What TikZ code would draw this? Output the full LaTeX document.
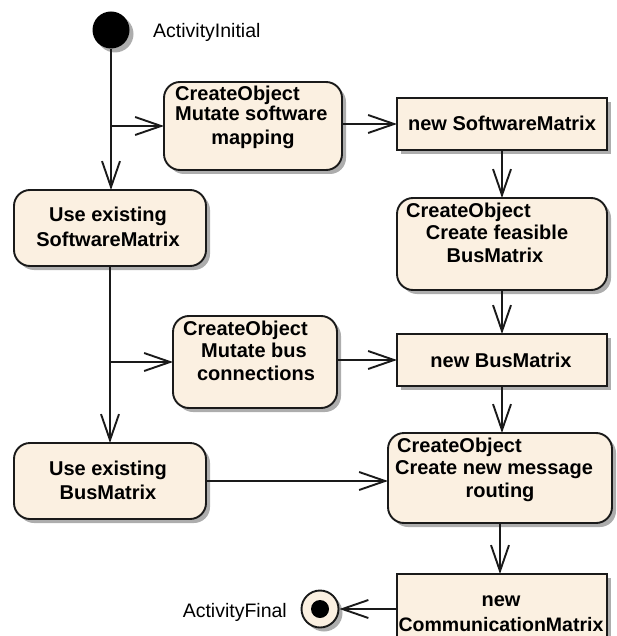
\documentclass[tikz,border=0pt]{standalone}
\usepackage{fontspec}
\setmainfont{Liberation Sans}
\usetikzlibrary{arrows.meta,shadows}
\definecolor{actfill}{HTML}{FBF0E1}
\definecolor{edge}{HTML}{1A1A1A}

\begin{document}
\begin{tikzpicture}[x=1pt,y=-1pt,
  shade/.style={drop shadow={shadow xshift=4pt,shadow yshift=-4pt,fill=black!32,opacity=1}},
  action/.style={draw=edge,line width=1.9pt,fill=actfill,rounded corners=16pt,shade,
    inner sep=0pt,outer sep=0pt},
  objbox/.style={draw=edge,line width=1.9pt,fill=actfill,shade,inner sep=0pt,outer sep=0pt},
  conn/.style={line width=1.9pt,draw=edge,
    -{Straight Barb[length=26pt,width=18pt,line width=1.9pt]}},
  lbl/.style={font=\fontsize{20pt}{22pt}\selectfont\bfseries,anchor=base,inner sep=0pt},
  lblw/.style={lbl,anchor=base west},
  plain/.style={font=\fontsize{19.5pt}{22pt}\selectfont,inner sep=0pt}]
  \useasboundingbox (0,0) rectangle (616,636);
  \clip (0,0) rectangle (616,636);

  % start and end markers
  \node[circle,fill=black,minimum size=37pt,inner sep=0pt,shade] (init) at (111,30) {};
  \node[plain,anchor=base west] (initlbl) at (153,38) {ActivityInitial};
  \node[circle,draw=edge,line width=1.9pt,fill=actfill,minimum size=37pt,inner sep=0pt,shade] (fin) at (320,609) {};
  \node[circle,fill=black,minimum size=18pt,inner sep=0pt] (findot) at (fin.center) {};
  \node[plain,anchor=base east] (finlbl) at (287,617) {ActivityFinal};

  % left column
  \node[action,minimum width=192pt,minimum height=76pt] (useSW) at (110,228) {};
  \node[lbl] (useSWa) at (108,222) {Use existing};
  \node[lbl] (useSWb) at (108,246) {SoftwareMatrix};

  \node[action,minimum width=192pt,minimum height=76pt] (useBus) at (110,481) {};
  \node[lbl] (useBusa) at (108,475) {Use existing};
  \node[lbl] (useBusb) at (108,499) {BusMatrix};

  % middle column
  \node[action,minimum width=178pt,minimum height=88pt] (mutSW) at (253,126) {};
  \node[lblw] (mutSWa) at (175,101) {CreateObject};
  \node[lblw] (mutSWb) at (175,121) {Mutate software};
  \node[lbl] (mutSWc) at (253,145) {mapping};

  \node[action,minimum width=164pt,minimum height=92pt] (mutBus) at (255,362) {};
  \node[lblw] (mutBusa) at (183,335) {CreateObject};
  \node[lbl] (mutBusb) at (254,357) {Mutate bus};
  \node[lbl] (mutBusc) at (256,380) {connections};

  % right column
  \node[objbox,minimum width=210pt,minimum height=52pt] (newSW) at (502,124) {};
  \node[lbl] (newSWa) at (502,131) {new SoftwareMatrix};

  \node[action,minimum width=210pt,minimum height=92pt] (feas) at (502,244) {};
  \node[lblw] (feasa) at (406,217) {CreateObject};
  \node[lbl] (feasb) at (497,239) {Create feasible};
  \node[lbl] (feasc) at (495,262) {BusMatrix};

  \node[objbox,minimum width=210pt,minimum height=52pt] (newBus) at (502,360) {};
  \node[lbl] (newBusa) at (501,367) {new BusMatrix};

  \node[action,minimum width=224pt,minimum height=90pt] (route) at (500,478) {};
  \node[lblw] (routea) at (397,452) {CreateObject};
  \node[lbl] (routeb) at (494,474) {Create new message};
  \node[lbl] (routec) at (500,497) {routing};

  \node[objbox,minimum width=210pt,minimum height=74pt] (comm) at (502,611) {};
  \node[lbl] (comma) at (501,606) {new};
  \node[lbl,font=\fontsize{19.5pt}{22pt}\selectfont\bfseries] (commb) at (501,631) {CommunicationMatrix};

  % control flow
  \coordinate (fork1) at (init.south |- mutSW.west);
  \coordinate (fork2) at (useSW.south |- mutBus.west);
  \draw[conn] (init.south) -- (init.south |- useSW.north);
  \draw[conn] (fork1) -- (mutSW.west);
  \draw[conn] (mutSW.east |- newSW.west) -- (newSW.west);
  \draw[conn] (newSW.south) -- (newSW.south |- feas.north);
  \draw[conn] (useSW.south) -- (useSW.south |- useBus.north);
  \draw[conn] (fork2) -- (mutBus.west);
  \draw[conn] (mutBus.east |- newBus.west) -- (newBus.west);
  \draw[conn] (feas.south) -- (feas.south |- newBus.north);
  \draw[conn] (newBus.south) -- (newBus.south |- route.north);
  \draw[conn] (useBus.east) -- (route.west |- useBus.east);
  \draw[conn] (route.south) -- (route.south |- comm.north);
  \draw[conn] (comm.west |- fin.east) -- (fin.east);
\end{tikzpicture}
\end{document}
